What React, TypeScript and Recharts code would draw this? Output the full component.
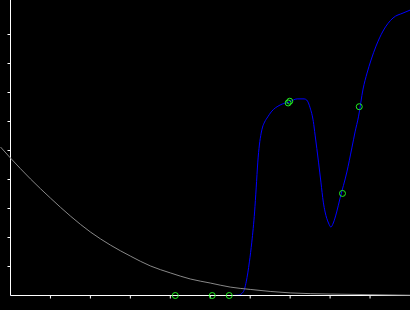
import React from "react";
import {
  ComposedChart,
  LineChart,
  Line,
  Scatter,
  XAxis,
  YAxis,
} from "recharts";

// blue curve
const blueX = [
  0, 1, 2, 3, 4, 5, 5.55, 5.7, 5.825, 5.9, 5.98, 6.04, 6.11, 6.15, 6.19, 6.23,
  6.275, 6.31, 6.36, 6.44, 6.525, 6.75, 6.975, 7.175, 7.35, 7.415, 7.5, 7.58,
  7.625, 7.71, 7.77, 7.83, 7.875, 7.96, 8.02, 8.08, 8.165, 8.25, 8.42, 8.545,
  8.625, 8.71, 8.825, 8.925, 9.025, 9.15, 9.325, 9.575, 9.825, 10,
];
const blueY = [
  0, 0, 0, 0, 0, 0, 0, 0.01, 0.12, 0.47, 1.16, 1.84, 2.88, 3.71, 4.6, 5.19,
  5.6, 5.81, 5.98, 6.16, 6.33, 6.57, 6.67, 6.78, 6.78, 6.74, 6.47, 6.0, 5.53,
  4.6, 3.91, 3.22, 2.88, 2.5, 2.36, 2.5, 2.88, 3.36, 4.26, 5.09, 5.64, 6.16,
  7.12, 7.67, 8.12, 8.6, 9.12, 9.57, 9.74, 9.84,
];

// grey decaying curve
const greyX = [-0.25, 0, 0.5, 1, 1.5, 2, 2.5, 3, 3.5, 4, 4.5, 5, 5.5, 6, 6.5, 7, 8, 9, 10];
const greyY = [
  5.12, 4.74, 4.02, 3.36, 2.74, 2.19, 1.74, 1.36, 1.02, 0.78, 0.57, 0.43, 0.29,
  0.21, 0.14, 0.09, 0.05, 0.03, 0.01,
];

// green ring markers
const markX = [4.125, 5.05, 5.475, 6.95, 6.99, 8.31, 8.73];
const markY = [0, 0, 0, 6.64, 6.7, 3.52, 6.51];

const xTicks = [1, 2, 3, 4, 5, 6, 7, 8, 9];
const yTicks = [1, 2, 3, 4, 5, 6, 7, 8, 9];

const blueData = blueX.map((x, i) => ({ x, y: blueY[i] }));
const greyData = greyX.map((x, i) => ({ x, y: greyY[i] }));
const markData = markX.map((x, i) => ({ x, y: markY[i] }));

const Ring = (props: any) => (
  <circle cx={props.cx} cy={props.cy} r={3} fill="none" stroke="#22ee22" strokeWidth={1} />
);

// no labels, tick lines only
const NoLabel = () => <g />;

export default function App() {
  return (
    <div style={{ position: "absolute", left: 0, top: 0, width: 410, height: 310, background: "#000" }}>
      <div style={{ position: "absolute", left: 0, top: 0 }}>
        <ComposedChart width={410} height={310} margin={{ top: 0, right: 0, bottom: 0.5, left: 0.5 }}>
          <XAxis
            type="number"
            dataKey="x"
            domain={[0, 10]}
            ticks={xTicks}
            tick={NoLabel}
            tickLine={{ stroke: "#fff" }}
            tickSize={3}
            height={14}
            stroke="#fff"
          />
          <YAxis
            type="number"
            dataKey="y"
            domain={[0, 10.19]}
            ticks={yTicks}
            tick={NoLabel}
            tickLine={{ stroke: "#fff" }}
            tickSize={3}
            width={10}
            stroke="#fff"
          />
          <Line
            data={blueData}
            dataKey="y"
            type="monotone"
            stroke="#0000ff"
            strokeWidth={1}
            dot={false}
            isAnimationActive={false}
          />
          <Scatter data={markData} dataKey="y" shape={Ring} isAnimationActive={false} />
        </ComposedChart>
      </div>
      <div style={{ position: "absolute", left: 0, top: 0 }}>
        <LineChart width={410} height={310} data={greyData} margin={{ top: 0, right: 0, bottom: 14.5, left: 0.5 }}>
          <XAxis type="number" dataKey="x" domain={[-0.25, 10]} hide />
          <YAxis type="number" domain={[0, 10.19]} hide />
          <Line
            dataKey="y"
            type="monotone"
            stroke="#888"
            strokeWidth={1}
            dot={false}
            isAnimationActive={false}
          />
        </LineChart>
      </div>
    </div>
  );
}
